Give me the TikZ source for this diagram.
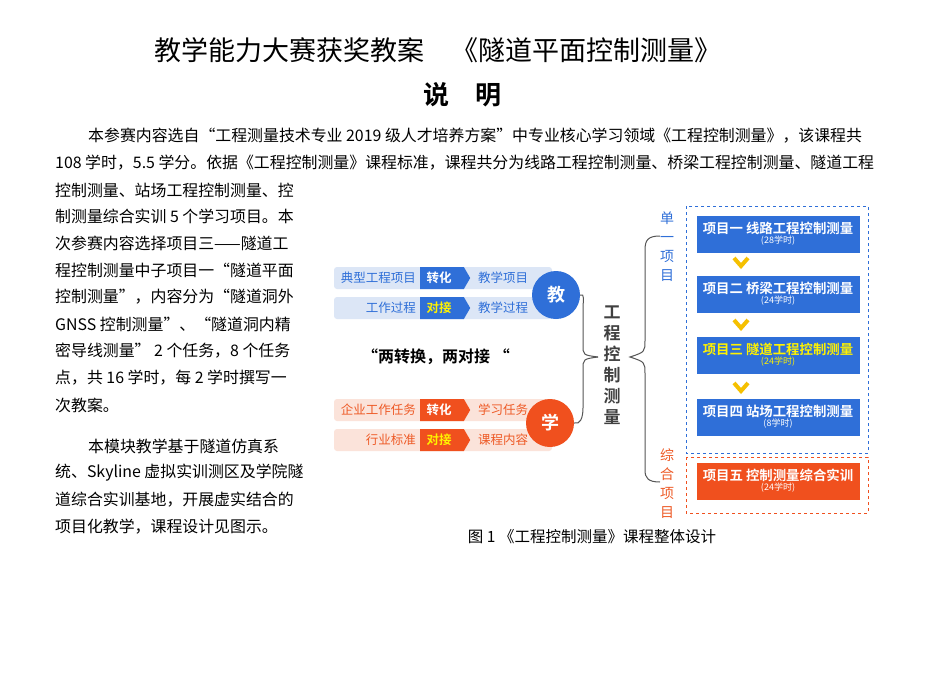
\documentclass[tikz,border=0pt]{standalone}
\usepackage{fontspec}
\setmainfont{Noto Sans CJK SC}
\newfontfamily\cjkb{Noto Sans CJK SC Bold}
\usetikzlibrary{shapes.symbols}
\definecolor{bdark}{HTML}{2F6FD8}
\definecolor{blight}{HTML}{DCE6F6}
\definecolor{btext}{HTML}{2F6FD8}
\definecolor{odark}{HTML}{F0501E}
\definecolor{olight}{HTML}{FBE3DA}
\definecolor{otext}{HTML}{EE5A26}
\definecolor{ylw}{HTML}{F5C000}
\definecolor{bracec}{HTML}{555555}
\tikzset{
 body/.style={anchor=west,inner sep=0pt,font=\fontsize{15.9}{17}\selectfont},
 lbox/.style={minimum height=21pt,inner sep=0pt,font=\fontsize{12.5}{13}\selectfont},
 arr/.style={signal,signal to=east,signal pointer angle=120,minimum height=22pt,minimum width=50pt,inner sep=0pt,text=white,font=\cjkb\fontsize{12.5}{13}\selectfont},
 circ/.style={circle,minimum size=48pt,inner sep=0pt,text=white,font=\cjkb\fontsize{18}{18}\selectfont},
 proj/.style={fill=bdark,minimum width=163pt,minimum height=37pt,inner sep=0pt,text=white,align=center},
 chev/.style={ylw,line width=4pt},
 vtext/.style={align=center,inner sep=0pt}
}
\begin{document}
\begin{tikzpicture}[x=1pt,y=-1pt]
\useasboundingbox[fill=white] (0,0) rectangle (950,673);
\node[inner sep=0pt,font=\fontsize{27}{28}\selectfont] (title) at (438,50) {教学能力大赛获奖教案\quad《隧道平面控制测量》};
\node[inner sep=0pt,font=\cjkb\fontsize{26}{28}\selectfont] (sm) at (462,95) {说\quad 明};
\node[body] (l1) at (88,136) {本参赛内容选自“工程测量技术专业 2019 级人才培养方案”中专业核心学习领域《工程控制测量》，该课程共};
\node[body] (l2) at (55,163) {108 学时，5.5 学分。依据《工程控制测量》课程标准，课程共分为线路工程控制测量、桥梁工程控制测量、隧道工程};
\node[body] (l3) at (55,190) {控制测量、站场工程控制测量、控};
\node[body] (l4) at (55,216) {制测量综合实训 5 个学习项目。本};
\node[body] (l5) at (55,243) {次参赛内容选择项目三——隧道工};
\node[body] (l6) at (55,270) {程控制测量中子项目一“隧道平面};
\node[body] (l7) at (55,297) {控制测量”，内容分为“隧道洞外};
\node[body] (l8) at (55,324) {GNSS 控制测量”、“隧道洞内精};
\node[body] (l9) at (55,351) {密导线测量” 2 个任务，8 个任务};
\node[body] (l10) at (55,378) {点，共 16 学时，每 2 学时撰写一};
\node[body] (l11) at (55,405) {次教案。};
\node[body] (m1) at (88,446) {本模块教学基于隧道仿真系};
\node[body] (m2) at (55,473) {统、Skyline 虚拟实训测区及学院隧};
\node[body] (m3) at (55,500) {道综合实训基地，开展虚实结合的};
\node[body] (m4) at (55,527) {项目化教学，课程设计见图示。};
\node[inner sep=0pt,font=\fontsize{15.5}{16}\selectfont] (cap) at (592,537) {图 1 《工程控制测量》课程整体设计};
% left rows
\foreach \y/\a/\b/\c/\tc in {278/典型工程项目/转化/教学项目/white, 308/工作过程/对接/教学过程/yellow}{
 \fill[blight,rounded corners=3pt] (334,\y-11) rectangle (552,\y+11);
 \node[lbox,text=btext,anchor=east] at (416,\y) {\a};
 \node[arr,fill=bdark,text=\tc,anchor=west] at (420,\y) {\b\hspace*{6pt}};
 \node[lbox,text=btext,anchor=west] at (478,\y) {\c};
}
\foreach \y/\a/\b/\c/\tc in {410/企业工作任务/转化/学习任务/white, 440/行业标准/对接/课程内容/yellow}{
 \fill[olight,rounded corners=3pt] (334,\y-11) rectangle (552,\y+11);
 \node[lbox,text=otext,anchor=east] at (416,\y) {\a};
 \node[arr,fill=odark,text=\tc,anchor=west] at (420,\y) {\b\hspace*{6pt}};
 \node[lbox,text=otext,anchor=west] at (478,\y) {\c};
}
\node[circ,fill=bdark] (jiao) at (556,295) {教};
\node[circ,fill=odark] (xue) at (550,423) {学};
\node[inner sep=0pt,font=\cjkb\fontsize{16}{16}\selectfont] (quote) at (436,357) {“两转换，两对接 “};
\node[vtext,font=\cjkb\fontsize{17}{21}\selectfont,text=black!75] (gc) at (612,365) {工\\程\\控\\制\\测\\量};
\draw[bracec,line width=1pt] (jiao.east) .. controls (585,293) and (583,300) .. (583,310) -- (583,345) .. controls (583,355) .. (598,357);
\draw[bracec,line width=1pt] (xue.east) .. controls (580,425) and (583,418) .. (583,408) -- (583,370) .. controls (583,359) .. (598,357);
% right brace
\coordinate (bt) at (660,236);
\coordinate (bb) at (660,482);
\draw[bracec,line width=1pt] (bt) .. controls (648,236) and (645,240) .. (645,250) -- (645,340) .. controls (645,352) .. (630,357) .. controls (645,362) .. (645,374) -- (645,470) .. controls (645,478) and (648,482) .. (bb);
\node[vtext,text=btext,font=\fontsize{14}{19}\selectfont] (dy) at (667,247) {单\\一\\项\\目};
\node[vtext,text=otext,font=\fontsize{14}{19}\selectfont] (zh) at (667,484) {综\\合\\项\\目};
\draw[bdark,dashed,line width=0.8pt] (686,206) rectangle (868,453);
\draw[odark,dashed,line width=0.8pt] (686,457) rectangle (868,513);
\node[proj] (p1) at (778,234) {{\cjkb\fontsize{13.4}{15}\selectfont 项目一 线路工程控制测量}\\[-2pt]{\fontsize{9}{10}\selectfont (28学时)}};
\node[proj] (p2) at (778,294) {{\cjkb\fontsize{13.4}{15}\selectfont 项目二 桥梁工程控制测量}\\[-2pt]{\fontsize{9}{10}\selectfont (24学时)}};
\node[proj,text=yellow] (p3) at (778,355) {{\cjkb\fontsize{13.4}{15}\selectfont 项目三 隧道工程控制测量}\\[-2pt]{\fontsize{9}{10}\selectfont (24学时)}};
\node[proj] (p4) at (778,417) {{\cjkb\fontsize{13.4}{15}\selectfont 项目四 站场工程控制测量}\\[-2pt]{\fontsize{9}{10}\selectfont (8学时)}};
\node[proj,fill=odark] (p5) at (778,481) {{\cjkb\fontsize{13.4}{15}\selectfont 项目五 控制测量综合实训}\\[-2pt]{\fontsize{9}{10}\selectfont (24学时)}};
\foreach \y in {263,325,388}{
 \draw[chev] (734,\y-5) -- (741,\y+3) -- (748,\y-5);
}
\end{tikzpicture}
\end{document}
